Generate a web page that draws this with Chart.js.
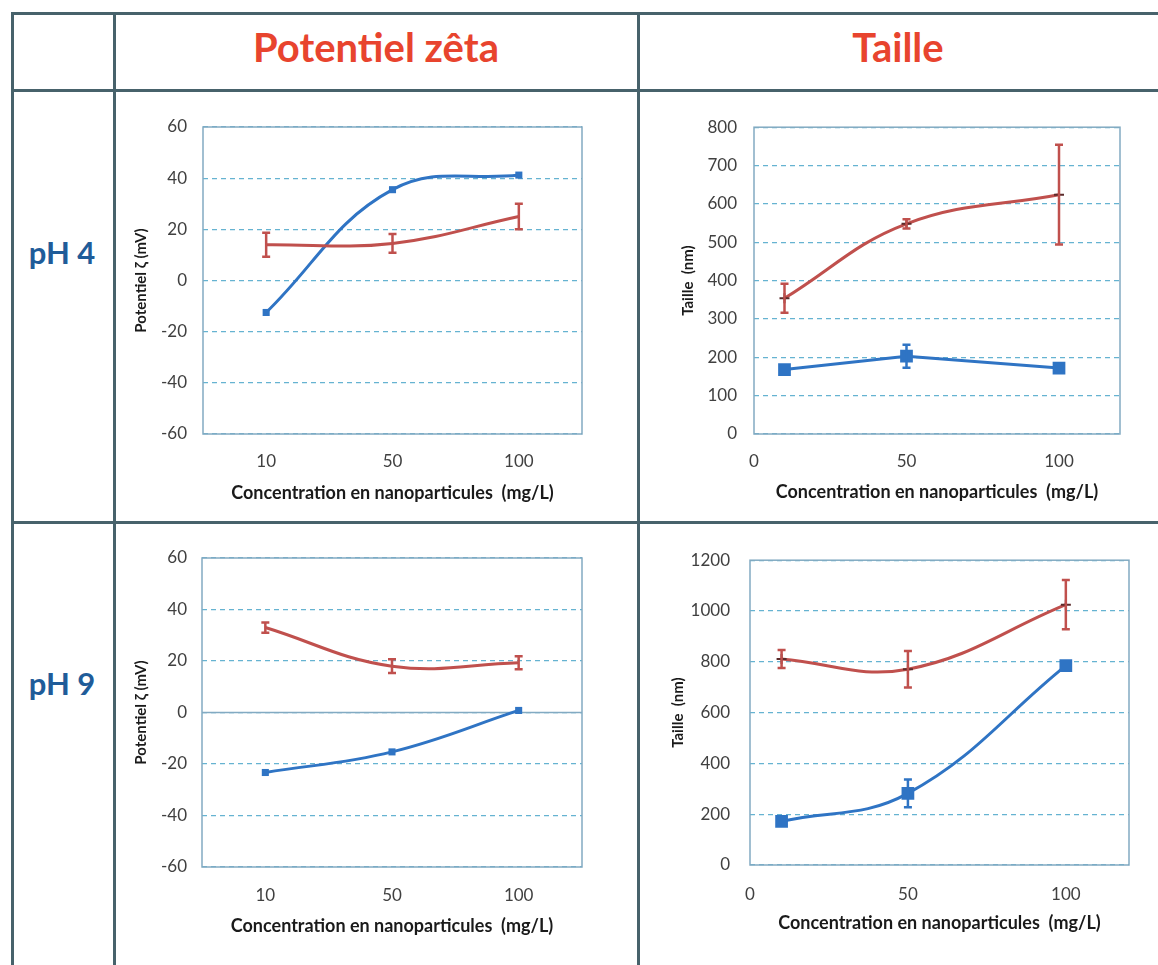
<!DOCTYPE html>
<html>
<head>
<meta charset="utf-8">
<script src="https://cdn.jsdelivr.net/npm/chart.js@4.4.1/dist/chart.umd.min.js"></script>
<style>
  body { margin: 0; background: #fff; width: 1158px; height: 965px; overflow: hidden; position: relative; font-family: Lato, "Open Sans", sans-serif; }
  .hl, .vl { position: absolute; background: #47626b; }
  .hl { left: 11px; right: 0; height: 3px; }
  .vl { top: 12px; bottom: 0; width: 2.5px; }
  .head { position: absolute; font-weight: bold; text-align: center; white-space: nowrap; }
  canvas { position: absolute; }
</style>
</head>
<body>
<div class="hl" style="top:12px"></div>
<div class="hl" style="top:89px"></div>
<div class="hl" style="top:521px"></div>
<div class="vl" style="left:11px"></div>
<div class="vl" style="left:113px"></div>
<div class="vl" style="left:637px"></div>

<div class="head" style="left:114px;width:524px;top:22px;font-size:40px;line-height:50px;color:#e8442e">Potentiel zêta</div>
<div class="head" style="left:638px;width:520px;top:22px;font-size:40px;line-height:50px;color:#e8442e">Taille</div>
<div class="head" style="left:12px;width:100px;top:234px;font-size:31px;line-height:36px;color:#1f5c99">pH 4</div>
<div class="head" style="left:12px;width:100px;top:665px;font-size:31px;line-height:36px;color:#1f5c99">pH 9</div>

<canvas id="zeta4" width="470" height="410" style="left:120px;top:100px"></canvas>
<canvas id="taille4" width="500" height="410" style="left:640px;top:100px"></canvas>
<canvas id="zeta9" width="470" height="410" style="left:120px;top:530px"></canvas>
<canvas id="taille9" width="500" height="410" style="left:640px;top:530px"></canvas>

<script>
// concentrations (mg/L)
var concLabels = ['10', '50', '100'];
var concValues = [10, 50, 100];

// potentiel zeta (mV)
var zeta4Blue = [-12.5, 35.5, 41.2];
var zeta4Red = [14, 14.5, 25];
var zeta4RedErr = [4.7, 3.7, 5];
var zeta9Blue = [-23.3, -15.3, 0.8];
var zeta9Red = [33, 18, 19.3];
var zeta9RedErr = [2, 2.7, 2.5];

// taille (nm)
var taille4Blue = [168, 203, 172];
var taille4BlueErr = [0, 30, 0];
var taille4Red = [354, 548, 624];
var taille4RedErr = [38, 12, 130];
var taille9Blue = [172, 282, 785];
var taille9BlueErr = [0, 55, 0];
var taille9Red = [811, 771, 1025];
var taille9RedErr = [35, 72, 97];

var BLUE = '#2f74c4';
var RED = '#c0504d';
var GRID = '#66b3d1';
var FRAME = '#82aac2';
var TICK = '#404040';
var TICK_FONT = { family: 'Lato', size: 17 };

function xy(ys) {
  return ys.map(function (y, i) { return { x: concValues[i], y: y }; });
}

// frame round the plot area, and the solid zero line
var frame = {
  id: 'frame',
  beforeDatasetsDraw: function (chart, args, opts) {
    var a = chart.chartArea, ctx = chart.ctx;
    ctx.save();
    ctx.strokeStyle = FRAME;
    ctx.lineWidth = 1.5;
    if (opts.zero) {
      var y0 = chart.scales.y.getPixelForValue(0);
      ctx.beginPath(); ctx.moveTo(a.left, y0); ctx.lineTo(a.right, y0); ctx.stroke();
    }
    ctx.strokeRect(a.left, a.top, a.right - a.left, a.bottom - a.top);
    ctx.restore();
  }
};

var errorBars = {
  id: 'errorBars',
  afterDatasetsDraw: function (chart) {
    var ctx = chart.ctx, ys = chart.scales.y;
    chart.data.datasets.forEach(function (ds, i) {
      if (!ds.errors) return;
      var meta = chart.getDatasetMeta(i);
      meta.data.forEach(function (pt, j) {
        var e = ds.errors[j];
        if (!e) return;
        var d = ds.data[j];
        var v = typeof d === 'object' ? d.y : d;
        var t = ys.getPixelForValue(v + e), b = ys.getPixelForValue(v - e);
        ctx.save();
        ctx.strokeStyle = ds.borderColor;
        ctx.lineWidth = 2.5;
        ctx.beginPath();
        ctx.moveTo(pt.x, t); ctx.lineTo(pt.x, b);
        ctx.moveTo(pt.x - 4, t); ctx.lineTo(pt.x + 4, t);
        ctx.moveTo(pt.x - 4, b); ctx.lineTo(pt.x + 4, b);
        ctx.stroke();
        ctx.restore();
      });
    });
  }
};

function makeChart(id, o) {
  new Chart(document.getElementById(id), {
    type: 'line',
    data: { labels: o.labels, datasets: o.datasets },
    options: {
      responsive: false,
      animation: false,
      layout: { padding: { top: o.top, right: o.right, left: 0, bottom: 0 } },
      plugins: { legend: { display: false }, tooltip: { enabled: false }, frame: { zero: !!o.zero } },
      scales: {
        x: Object.assign({
          grid: { display: false, drawTicks: false },
          border: { display: false },
          title: { display: true, text: 'Concentration en nanoparticules  (mg/L)', color: '#1a1a1a',
                   font: { family: 'Lato', size: 18, weight: 'bold' }, padding: { top: 0, bottom: o.xTitlePad } },
          afterFit: function (s) { s.height = o.xHeight; }
        }, o.x),
        y: {
          min: o.yMin, max: o.yMax,
          grid: { color: GRID, lineWidth: 1.2, drawTicks: false },
          border: { display: false, dash: [5, 4] },
          ticks: { stepSize: o.yStep, color: TICK, font: TICK_FONT, padding: o.yTickPad, format: { useGrouping: false } },
          title: { display: true, text: o.yTitle, color: '#1a1a1a',
                   font: { family: 'Lato', size: 15, weight: 'bold' }, padding: { top: o.yTitlePad, bottom: 0 } },
          afterFit: function (s) { s.width = o.yWidth; }
        }
      }
    },
    plugins: [frame, errorBars]
  });
}

function catX(pad) {
  return { type: 'category', offset: true, ticks: { color: TICK, font: TICK_FONT, padding: pad, maxRotation: 0 } };
}
function linX(pad) {
  return { type: 'linear', min: 0, max: 120,
           ticks: { stepSize: 50, includeBounds: false, color: TICK, font: TICK_FONT, padding: pad, maxRotation: 0 } };
}

function blueSet(data, r, errs, tension) {
  return { data: data, errors: errs, borderColor: BLUE, backgroundColor: BLUE, borderWidth: 3,
           pointStyle: 'rect', pointRadius: r, pointBorderWidth: 0, tension: tension };
}
function redSet(data, errs, marker) {
  return { data: data, errors: errs, borderColor: RED, backgroundColor: RED, borderWidth: 3,
           pointStyle: 'cross', pointRadius: marker ? 5 : 0, pointBorderColor: '#5a2a2a', pointBorderWidth: 2, tension: 0.4 };
}

makeChart('zeta4', {
  labels: concLabels,
  datasets: [redSet(zeta4Red, zeta4RedErr, false), blueSet(zeta4Blue, 5, null, 0.4)],
  x: catX(17.5), yMin: -60, yMax: 60, yStep: 20, yTitle: 'Potentiel ζ (mV)',
  top: 27, right: 8, yWidth: 83, xHeight: 76, yTickPad: 16, yTitlePad: 12.5, xTitlePad: 6
});

makeChart('zeta9', {
  labels: concLabels,
  datasets: [redSet(zeta9Red, zeta9RedErr, false), blueSet(zeta9Blue, 5, null, 0.4)],
  x: catX(18.5), yMin: -60, yMax: 60, yStep: 20, yTitle: 'Potentiel ζ (mV)', zero: true,
  top: 28, right: 8, yWidth: 82, xHeight: 73, yTickPad: 15, yTitlePad: 12.5, xTitlePad: 3
});

makeChart('taille4', {
  datasets: [redSet(xy(taille4Red), taille4RedErr, true), blueSet(xy(taille4Blue), 9, taille4BlueErr, 0)],
  x: linX(17.5), yMin: 0, yMax: 800, yStep: 100, yTitle: 'Taille  (nm)',
  top: 27, right: 20, yWidth: 114, xHeight: 76, yTickPad: 17, yTitlePad: 39, xTitlePad: 7.5
});

makeChart('taille9', {
  datasets: [redSet(xy(taille9Red), taille9RedErr, true), blueSet(xy(taille9Blue), 9, taille9BlueErr, 0.4)],
  x: linX(19), yMin: 0, yMax: 1200, yStep: 200, yTitle: 'Taille  (nm)',
  top: 29, right: 11, yWidth: 110, xHeight: 75, yTickPad: 20, yTitlePad: 29, xTitlePad: 6
});
</script>
</body>
</html>
